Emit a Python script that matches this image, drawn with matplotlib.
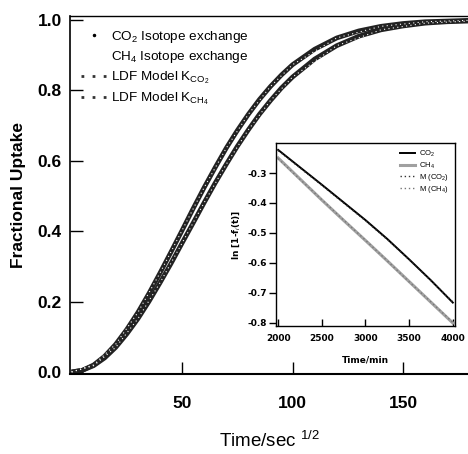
import matplotlib
matplotlib.use('Agg')
import matplotlib.pyplot as plt
from matplotlib.lines import Line2D

plt.rcParams['font.family'] = ['Liberation Sans', 'DejaVu Sans']
plt.rcParams['mathtext.fontset'] = 'custom'
plt.rcParams['mathtext.rm'] = 'Liberation Sans'
plt.rcParams['mathtext.it'] = 'Liberation Sans:italic'
plt.rcParams['mathtext.bf'] = 'Liberation Sans:bold'

# uptake curves, time in sec^1/2
t_sqrt = [0, 5, 10, 15, 20, 25, 30, 35, 40, 45, 50, 55, 60, 65, 70, 75, 80,
          85, 90, 95, 100, 110, 120, 130, 140, 150, 160, 170, 180]
co2_uptake = [0.0, 0.005, 0.020, 0.045, 0.079, 0.121, 0.169, 0.223, 0.281,
              0.341, 0.402, 0.464, 0.524, 0.581, 0.636, 0.686, 0.732, 0.774,
              0.811, 0.844, 0.873, 0.917, 0.949, 0.969, 0.982, 0.990, 0.995,
              0.997, 0.999]
ch4_uptake = [0.0, 0.005, 0.018, 0.040, 0.070, 0.108, 0.151, 0.200, 0.253,
              0.308, 0.366, 0.423, 0.481, 0.537, 0.590, 0.641, 0.688, 0.732,
              0.771, 0.807, 0.838, 0.889, 0.927, 0.954, 0.972, 0.983, 0.991,
              0.995, 0.997]

# LDF model fits
t_model = [0, 10, 20, 30, 40, 50, 60, 70, 80, 90, 100, 120, 140, 160, 180]
ldf_co2 = [0.0, 0.020, 0.079, 0.169, 0.281, 0.402, 0.524, 0.636, 0.732,
           0.811, 0.873, 0.949, 0.982, 0.995, 0.999]
ldf_ch4 = [0.0, 0.018, 0.070, 0.151, 0.253, 0.366, 0.481, 0.590, 0.688,
           0.771, 0.838, 0.927, 0.972, 0.991, 0.997]

# ln[1-f(t)] for the inset
t_min = [2000, 2250, 2500, 2750, 3000, 3250, 3500, 3750, 4000]
ln_co2 = [-0.223, -0.281, -0.339, -0.398, -0.457, -0.520, -0.588, -0.658,
          -0.732]
ln_ch4 = [-0.250, -0.320, -0.390, -0.458, -0.525, -0.593, -0.662, -0.731,
          -0.800]
fit_co2 = [-0.225, -0.283, -0.341, -0.400, -0.459, -0.522, -0.589, -0.659,
           -0.730]
fit_ch4 = [-0.252, -0.321, -0.389, -0.457, -0.524, -0.593, -0.663, -0.730,
           -0.798]

fig = plt.figure(figsize=(4.68, 4.54), dpi=100)
ax = fig.add_axes([0.1496, 0.176, 0.8504, 0.7885])

ax.plot(t_sqrt, co2_uptake, color='#222222', lw=3.4, solid_capstyle='butt')
ax.plot(t_sqrt, ch4_uptake, color='#222222', lw=3.4, solid_capstyle='butt')
ax.plot(t_model, ldf_co2, color='white', lw=0.8, ls=(0, (1, 3)))
ax.plot(t_model, ldf_ch4, color='white', lw=0.8, ls=(0, (1, 3)))

ax.set_xlim(-0.7, 179.4)
ax.set_ylim(-0.006, 1.011)
ax.set_xticks([50, 100, 150])
ax.set_yticks([0.0, 0.2, 0.4, 0.6, 0.8, 1.0])
ax.set_yticklabels(['0.0', '0.2', '0.4', '0.6', '0.8', '1.0'])
ax.tick_params(axis='x', direction='in', length=9, width=1, pad=16,
               labelsize=12.5)
ax.tick_params(axis='y', direction='in', length=9, width=1, pad=6,
               labelsize=12.5)
for lab in ax.get_xticklabels() + ax.get_yticklabels():
    lab.set_fontweight('bold')
ax.spines['right'].set_visible(False)
ax.spines['top'].set_linewidth(1.0)
ax.spines['left'].set_linewidth(1.2)
ax.spines['bottom'].set_linewidth(1.5)
ax.set_ylabel('Fractional Uptake', fontsize=12.5, fontweight='bold',
              labelpad=8)
ax.set_xlabel('Time/sec $^{1/2}$', fontsize=13.5, labelpad=14)

handles = [
    Line2D([], [], ls='none', marker='.', ms=3, color='black'),
    Line2D([], [], ls='none', marker='.', ms=3, color='white'),
    Line2D([], [], ls=(0, (1, 3)), lw=2, color='#333333'),
    Line2D([], [], ls=(0, (1, 3)), lw=2, color='#333333'),
]
labels = ['CO$_2$ Isotope exchange', 'CH$_4$ Isotope exchange',
          'LDF Model K$_{\\mathrm{CO_2}}$', 'LDF Model K$_{\\mathrm{CH_4}}$']
ax.legend(handles, labels, loc='upper left', frameon=False, fontsize=9.7,
          handlelength=1.8, handletextpad=0.4, labelspacing=0.32,
          borderaxespad=0.3, bbox_to_anchor=(0.005, 0.99))

# inset: ln[1-f(t)] vs time
ins = fig.add_axes([0.5897, 0.282, 0.3825, 0.403])
ins.plot(t_min, ln_co2, color='black', lw=1.4, label='CO$_2$')
ins.plot(t_min, ln_ch4, color='#a0a0a0', lw=2.2, label='CH$_4$')
ins.plot(t_min, fit_co2, color='#333333', lw=1.0, ls=(0, (1, 2)),
         label='M (CO$_2$)')
ins.plot(t_min, fit_ch4, color='#777777', lw=1.0, ls=(0, (1, 2)),
         label='M (CH$_4$)')
ins.set_xlim(1975, 4025)
ins.set_ylim(-0.81, -0.2)
ins.set_xticks([2000, 2500, 3000, 3500, 4000])
ins.set_yticks([-0.8, -0.7, -0.6, -0.5, -0.4, -0.3])
ins.set_yticklabels(['-0.8', '-0.7', '-0.6', '-0.5', '-0.4', '-0.3'])
ins.tick_params(axis='x', direction='in', length=5, width=1, pad=6,
                labelsize=6.5)
ins.tick_params(axis='y', direction='out', length=5, width=1, pad=1.5,
                labelsize=6.5)
for lab in ins.get_xticklabels() + ins.get_yticklabels():
    lab.set_family('DejaVu Sans')
    lab.set_fontweight('bold')
for sp in ins.spines.values():
    sp.set_linewidth(1.0)
ins.set_xlabel('Time/min', fontsize=6.5, fontweight='bold',
               family='DejaVu Sans', labelpad=9)
ins.set_ylabel('ln [1-f$_i$(t)]', fontsize=6.5, fontweight='bold',
               family='DejaVu Sans', labelpad=4)
ins.legend(loc='upper right', frameon=False, fontsize=5.5, handlelength=2.0,
           handletextpad=0.5, labelspacing=0.15, borderaxespad=0.4)

fig.savefig('out.png', dpi=100)
